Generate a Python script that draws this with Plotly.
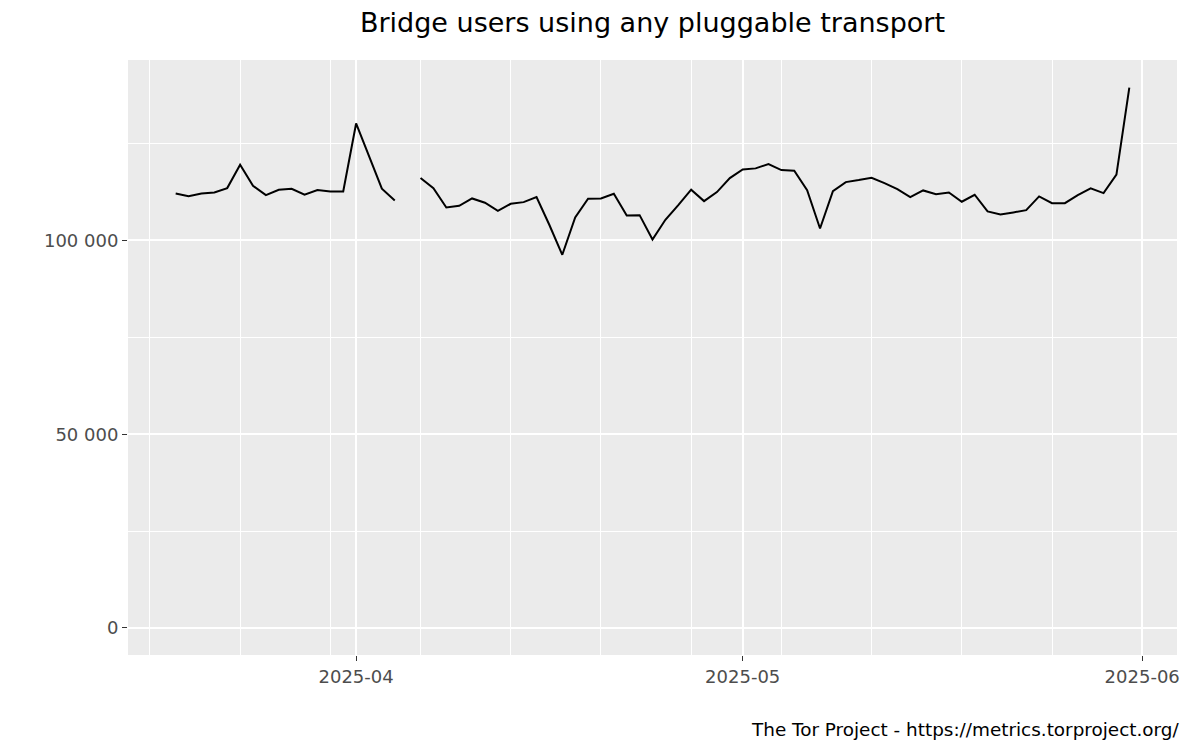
import plotly.graph_objects as go
import pandas as pd

dates = pd.date_range("2025-03-18", "2025-05-31", freq="D").strftime("%Y-%m-%d").tolist()

users = [
    112150, 111450, 112150, 112400, 113520, 119560, 114130, 111700, 113100, 113360,
    111800, 113000, 112660, 112660,                      # Mar 18 - Mar 31
    130200, 121800, 113360, 110340, None, 116150, 113520, 108530, 108960, 110850,
    109740, 107670, 109480, 109900, 111190, 104000, 96310, 105950, 110770, 110850,
    112060, 106460, 106540, 100260, 105350, 109130, 113100, 110160, 112490, 116110,  # Apr
    118350, 118610, 119720, 118170, 118010, 113000, 103100, 112750, 115070, 115590,
    116200, 114810, 113260, 111190, 112920, 111960, 112400, 110000, 111800, 107490,
    106720, 107240, 107830, 111370, 109640, 109640, 111710, 113440, 112230, 116980,
    139460,                                                # May
]

x_tickvals = ["2025-04-01", "2025-05-01", "2025-06-01"]
x_ticktext = ["2025-04", "2025-05", "2025-06"]
x_minor = ["2025-03-16", "2025-03-23", "2025-03-30", "2025-04-06", "2025-04-13",
           "2025-04-20", "2025-04-27", "2025-05-04", "2025-05-11", "2025-05-18",
           "2025-05-25", "2025-06-01"]
y_tickvals = [0, 50000, 100000]
y_ticktext = ["0", "50 000", "100 000"]
y_minor = [25000, 75000, 125000]

title = "Bridge users using any pluggable transport"
caption = "The Tor Project - https://metrics.torproject.org/"

fig = go.Figure()
fig.add_trace(go.Scatter(
    x=dates, y=users, mode="lines",
    line=dict(color="black", width=2),
    connectgaps=False, hoverinfo="x+y", showlegend=False,
))

FONT = "DejaVu Sans"
W, H = 1192, 742  # page body has an 8px margin
fig.update_layout(
    width=W, height=H,
    paper_bgcolor="white", plot_bgcolor="#EBEBEB",
    margin=dict(l=120, r=23, t=52, b=95),
    font=dict(family=FONT, size=18, color="#4D4D4D"),
    title=dict(text=title, x=0.5, xref="paper", xanchor="center",
               y=1 - 15 / H, yref="container", yanchor="middle",
               font=dict(family=FONT, size=27, color="black")),
    xaxis=dict(
        type="date",
        range=["2025-03-14 07:12", "2025-06-03 16:48"],
        tickmode="array", tickvals=x_tickvals, ticktext=x_ticktext,
        ticks="outside", ticklen=5, tickwidth=1.2, tickcolor="#333333",
        showgrid=True, gridcolor="white", gridwidth=2,
        minor=dict(tickmode="array", tickvals=x_minor, showgrid=True,
                   gridcolor="white", gridwidth=1, ticks=""),
        zeroline=False, showline=False,
        tickfont=dict(family=FONT, size=18, color="#4D4D4D"),
    ),
    yaxis=dict(
        range=[-6980, 146580],
        tickmode="array", tickvals=y_tickvals, ticktext=y_ticktext,
        ticks="outside", ticklen=5, tickwidth=1.2, tickcolor="#333333",
        showgrid=True, gridcolor="white", gridwidth=2,
        minor=dict(tickmode="array", tickvals=y_minor, showgrid=True,
                   gridcolor="white", gridwidth=1, ticks=""),
        zeroline=False, showline=False,
        tickfont=dict(family=FONT, size=18, color="#4D4D4D"),
    ),
    annotations=[dict(
        text=caption, x=1, xref="paper", xanchor="right", xshift=4,
        y=(655 - 729) / 595, yref="paper", yanchor="middle",
        showarrow=False, font=dict(family=FONT, size=18.4, color="black"),
    )],
)

fig.write_html("out.html")
